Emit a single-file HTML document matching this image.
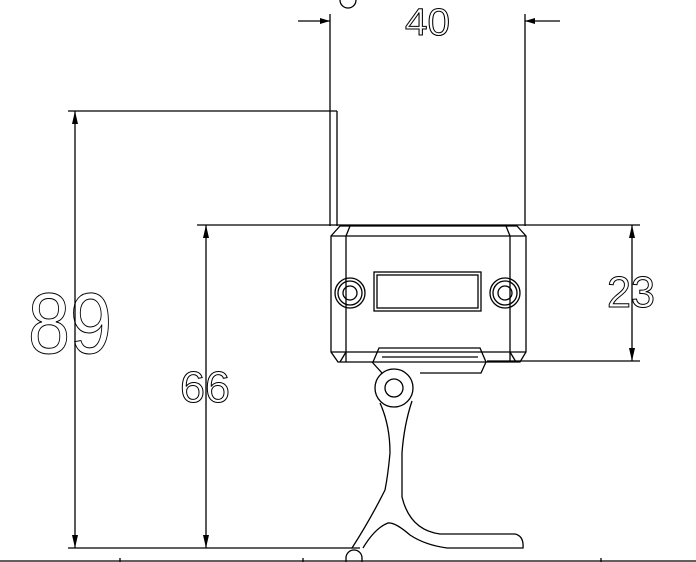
<!DOCTYPE html>
<html><head><style>html,body{margin:0;padding:0;background:#fff}svg{display:block}</style></head>
<body>
<svg width="696" height="562" viewBox="0 0 696 562" xmlns="http://www.w3.org/2000/svg">
<g fill="none" stroke="#000" stroke-width="1.3">
<line x1="330" y1="14" x2="330" y2="226"/>
<line x1="525" y1="14" x2="525" y2="226"/>
<line x1="298" y1="21" x2="330" y2="21"/>
<line x1="525" y1="21" x2="560" y2="21"/>
<line x1="68" y1="111" x2="337" y2="111"/>
<line x1="337" y1="111" x2="337" y2="226"/>
<line x1="197" y1="225" x2="640" y2="225"/>
<line x1="487" y1="361" x2="640" y2="361"/>
<line x1="68" y1="548" x2="360" y2="548"/>
<line x1="0" y1="561" x2="696" y2="561"/>
<line x1="120" y1="558" x2="120" y2="562"/><line x1="303" y1="558" x2="303" y2="562"/><line x1="601" y1="558" x2="601" y2="562"/>
<path d="M346 562 V558 A8 8 0 0 1 362 558 V562"/>
<path d="M340 0 A8 8 0 0 0 356 0"/>
<line x1="75" y1="111" x2="75" y2="548"/>
<line x1="206" y1="225" x2="206" y2="548"/>
<line x1="632" y1="225" x2="632" y2="361"/>
<path d="M331 236 L340 226 H517 L526 236 V352 L520 362 H338 L331 352 Z"/>
<line x1="331" y1="236" x2="526" y2="236"/>
<line x1="331" y1="352" x2="526" y2="352"/>
<line x1="346" y1="236" x2="346" y2="362"/>
<line x1="510" y1="236" x2="510" y2="362"/>
<line x1="346" y1="236" x2="350" y2="226"/><line x1="510" y1="236" x2="506" y2="226"/>
<line x1="346" y1="352" x2="340" y2="362"/><line x1="510" y1="352" x2="516" y2="362"/>
<rect x="374" y="272" width="107" height="39"/>
<rect x="377" y="275" width="101" height="33"/>
<circle cx="350" cy="293" r="15"/><circle cx="350" cy="293" r="12"/><circle cx="350" cy="293" r="7"/>
<circle cx="505" cy="293" r="15"/><circle cx="505" cy="293" r="12"/><circle cx="505" cy="293" r="7"/>
<path d="M373 362 L379 348 H480 L486 362"/>
<path d="M382 357 H478"/>
<path d="M372 362 L382 373 M486 362 L481 373 H420"/>
<circle cx="394" cy="388" r="19"/>
<circle cx="394" cy="388" r="9"/>
<path d="M380 403 Q390 425 390 453 Q388 475 385 490 Q370 520 352 548"/>
<path d="M412 401 Q404 425 402 453 L402 497 Q410 530 440 534 H515 Q524 536 523 548 H447 Q425 545 410 535 Q395 522 388 523 Q375 528 363 548"/>
</g>
<g fill="#000">
<polygon points="330,21 320,18 320,24"/>
<polygon points="525,21 535,18 535,24"/>
<polygon points="75,111 72,124 78,124"/><polygon points="75,548 72,535 78,535"/>
<polygon points="206,225 203,238 209,238"/><polygon points="206,548 203,535 209,535"/>
<polygon points="632,225 629,238 635,238"/><polygon points="632,361 629,348 635,348"/>
</g>
<g font-family="Liberation Sans, sans-serif" fill="none" stroke="#000" stroke-width="1">
<text x="405" y="35" font-size="38" textLength="45" lengthAdjust="spacingAndGlyphs">40</text>
<text x="28" y="353" font-size="86" textLength="84" lengthAdjust="spacingAndGlyphs">89</text>
<text x="180" y="402" font-size="44" textLength="50" lengthAdjust="spacingAndGlyphs">66</text>
<text x="607" y="307" font-size="44" textLength="48" lengthAdjust="spacingAndGlyphs">23</text>
</g>
</svg>
</body></html>
